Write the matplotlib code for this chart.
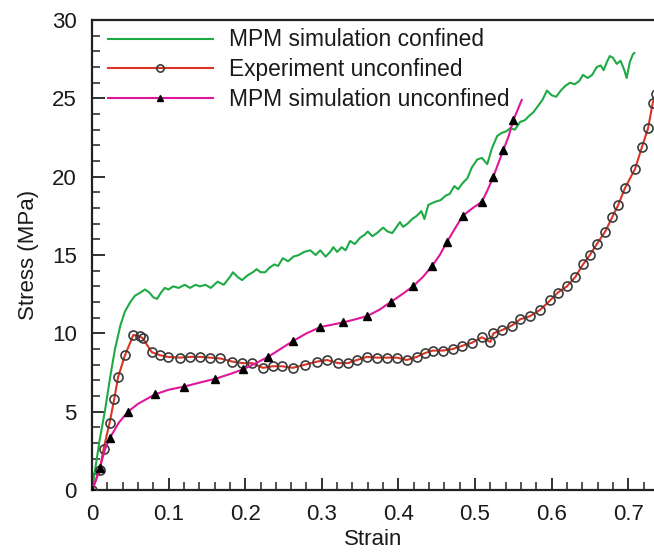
import matplotlib
matplotlib.use("Agg")
import matplotlib.pyplot as plt
from matplotlib.ticker import MultipleLocator

plt.rcParams['font.family'] = ['Liberation Sans', 'DejaVu Sans']

# MPM simulation confined (green)
green_strain = [0, 0.004, 0.01, 0.017, 0.024, 0.03, 0.037, 0.043, 0.05, 0.056, 0.063, 0.069, 0.075,
                0.08, 0.085, 0.09, 0.095, 0.1, 0.106, 0.113, 0.121, 0.128, 0.135, 0.141, 0.148, 0.155,
                0.164, 0.172, 0.18, 0.184, 0.19, 0.196, 0.203, 0.21, 0.215, 0.22, 0.226, 0.232, 0.238,
                0.243, 0.249, 0.256, 0.263, 0.27, 0.277, 0.285, 0.292, 0.298, 0.305, 0.311, 0.315, 0.32,
                0.326, 0.331, 0.337, 0.343, 0.35, 0.356, 0.36, 0.366, 0.372, 0.38, 0.386, 0.392, 0.402,
                0.406, 0.412, 0.418, 0.424, 0.43, 0.434, 0.439, 0.448, 0.455, 0.462, 0.467, 0.473, 0.478,
                0.484, 0.49, 0.496, 0.503, 0.509, 0.516, 0.522, 0.529, 0.535, 0.541, 0.546, 0.552, 0.559,
                0.565, 0.571, 0.576, 0.582, 0.588, 0.594, 0.6, 0.606, 0.612, 0.618, 0.624, 0.63, 0.636,
                0.641, 0.647, 0.653, 0.659, 0.664, 0.668, 0.672, 0.676, 0.68, 0.685, 0.69, 0.695, 0.698,
                0.702, 0.706, 0.708]
green_stress = [0, 1.3, 3.2, 5.1, 7.3, 9.0, 10.5, 11.4, 12.0, 12.4, 12.6, 12.8, 12.6,
                12.3, 12.2, 12.6, 12.9, 12.8, 13.0, 12.9, 13.1, 12.9, 13.1, 13.0, 13.1, 12.9,
                13.3, 13.1, 13.6, 13.9, 13.6, 13.4, 13.7, 13.9, 14.1, 13.9, 13.9, 14.2, 14.4,
                14.3, 14.8, 14.6, 14.9, 15.0, 15.2, 15.3, 15.0, 15.3, 14.9, 15.2, 15.5, 15.2,
                15.5, 15.3, 15.9, 15.7, 16.1, 16.3, 16.5, 16.2, 16.4, 16.75, 16.5, 16.4, 17.1,
                16.8, 17.0, 17.3, 17.5, 17.8, 17.3, 18.2, 18.4, 18.5, 18.8, 18.9, 19.4, 19.2,
                19.6, 19.9, 20.6, 21.1, 21.2, 20.8, 21.8, 22.6, 22.8, 22.9, 23.1, 23.0, 23.5,
                23.6, 23.9, 24.1, 24.5, 24.9, 25.5, 25.2, 25.1, 25.5, 25.8, 26.0, 25.9, 26.1,
                26.5, 26.3, 26.5, 27.0, 27.1, 26.8, 27.3, 27.7, 27.6, 27.2, 27.4, 26.8, 26.3,
                27.3, 27.8, 27.9]

# Experiment unconfined (red with open circles)
exp_strain = [0, 0.01, 0.015, 0.023, 0.029, 0.034, 0.043, 0.054, 0.062, 0.066, 0.078, 0.089, 0.099,
              0.115, 0.128, 0.141, 0.154, 0.167, 0.183, 0.196, 0.209, 0.223, 0.236, 0.248, 0.262,
              0.278, 0.294, 0.307, 0.321, 0.334, 0.346, 0.359, 0.372, 0.385, 0.398, 0.411, 0.424,
              0.435, 0.445, 0.458, 0.471, 0.483, 0.496, 0.509, 0.52, 0.524, 0.535, 0.548, 0.559,
              0.572, 0.585, 0.598, 0.608, 0.62, 0.631, 0.641, 0.65, 0.659, 0.67, 0.679, 0.687,
              0.696, 0.709, 0.718, 0.726, 0.732, 0.736]
exp_stress = [0, 1.3, 2.6, 4.3, 5.8, 7.2, 8.6, 9.9, 9.8, 9.7, 8.8, 8.6, 8.5,
              8.45, 8.5, 8.5, 8.45, 8.4, 8.2, 8.1, 8.1, 7.8, 7.9, 7.9, 7.8,
              8.0, 8.2, 8.3, 8.1, 8.1, 8.3, 8.5, 8.45, 8.45, 8.45, 8.3, 8.5,
              8.75, 8.9, 8.9, 9.0, 9.2, 9.4, 9.75, 9.45, 10.0, 10.2, 10.5, 10.9,
              11.1, 11.5, 12.1, 12.6, 13.0, 13.6, 14.4, 15.0, 15.7, 16.5, 17.4, 18.2,
              19.3, 20.5, 21.9, 23.1, 24.7, 25.3]

# MPM simulation unconfined (magenta with triangles)
unc_strain = [0, 0.005, 0.01, 0.017, 0.023, 0.035, 0.047, 0.06, 0.082, 0.1, 0.12, 0.14, 0.161,
              0.18, 0.197, 0.214, 0.23, 0.246, 0.262, 0.28, 0.298, 0.313, 0.328, 0.344, 0.359,
              0.375, 0.39, 0.405, 0.419, 0.432, 0.444, 0.454, 0.463, 0.474, 0.484, 0.497, 0.509,
              0.516, 0.524, 0.53, 0.537, 0.544, 0.55, 0.556, 0.561]
unc_stress = [0, 0.6, 1.4, 2.6, 3.3, 4.3, 5.0, 5.5, 6.1, 6.4, 6.6, 6.85, 7.1,
              7.4, 7.7, 8.1, 8.5, 9.0, 9.5, 10.0, 10.4, 10.55, 10.7, 10.9, 11.1,
              11.5, 12.0, 12.5, 13.0, 13.6, 14.3, 15.0, 15.8, 16.7, 17.5, 18.0, 18.4,
              19.1, 20.0, 20.8, 21.7, 22.6, 23.6, 24.3, 24.9]
unc_marker_idx = [0, 2, 4, 6, 8, 10, 12, 14, 16, 18, 20, 22, 24, 26, 28, 30, 32, 34, 36, 38, 40, 42]

fig = plt.figure(figsize=(6.54, 5.52), dpi=100)
ax = fig.add_axes([0.1407, 0.1123, 0.8593, 0.8514])

text_color = '#1a1a1a'

ax.plot(green_strain, green_stress, color='#1faa45', lw=1.5,
        label='MPM simulation confined', zorder=2)
ax.plot(exp_strain, exp_stress, color='#dc3425', lw=1.5, marker='o', ms=6.5,
        mfc='none', mec='#3a3a3a', mew=1.2, label='Experiment unconfined', zorder=3)
ax.plot(unc_strain, unc_stress, color='#e0169a', lw=1.5, marker='^', ms=6,
        mfc='black', mec='black', markevery=unc_marker_idx,
        label='MPM simulation unconfined', zorder=4)

ax.set_xlim(0, 0.7337)
ax.set_ylim(0, 30)
ax.xaxis.set_major_locator(MultipleLocator(0.1))
ax.xaxis.set_minor_locator(MultipleLocator(0.02))
ax.yaxis.set_major_locator(MultipleLocator(5))
ax.yaxis.set_minor_locator(MultipleLocator(1))
ax.set_xticks([0, 0.1, 0.2, 0.3, 0.4, 0.5, 0.6, 0.7])
ax.set_xticklabels(['0', '0.1', '0.2', '0.3', '0.4', '0.5', '0.6', '0.7'])

ax.tick_params(which='both', direction='in', color='#222222', labelcolor=text_color,
               labelsize=16, top=False, right=False)
ax.tick_params(which='major', length=9, width=1.3)
ax.tick_params(which='minor', length=5.5, width=1.1)
ax.tick_params(axis='x', which='major', pad=10)
ax.tick_params(axis='y', which='major', pad=11)

for s in ['left', 'bottom', 'top']:
    ax.spines[s].set_linewidth(1.6)
    ax.spines[s].set_color('#222222')
ax.spines['right'].set_visible(False)

ax.set_xlabel('Strain', fontsize=16, color=text_color, labelpad=3)
ax.set_ylabel('Stress (MPa)', fontsize=16, color=text_color, labelpad=9)

leg = ax.legend(loc='upper left', bbox_to_anchor=(0.028, 0.982), frameon=False,
                fontsize=16.4, handlelength=4.6, handletextpad=0.72, labelspacing=0.3,
                borderaxespad=0, borderpad=0, numpoints=1, markerscale=0.8)
for t in leg.get_texts():
    t.set_color(text_color)

fig.savefig('out.png', dpi=100)
